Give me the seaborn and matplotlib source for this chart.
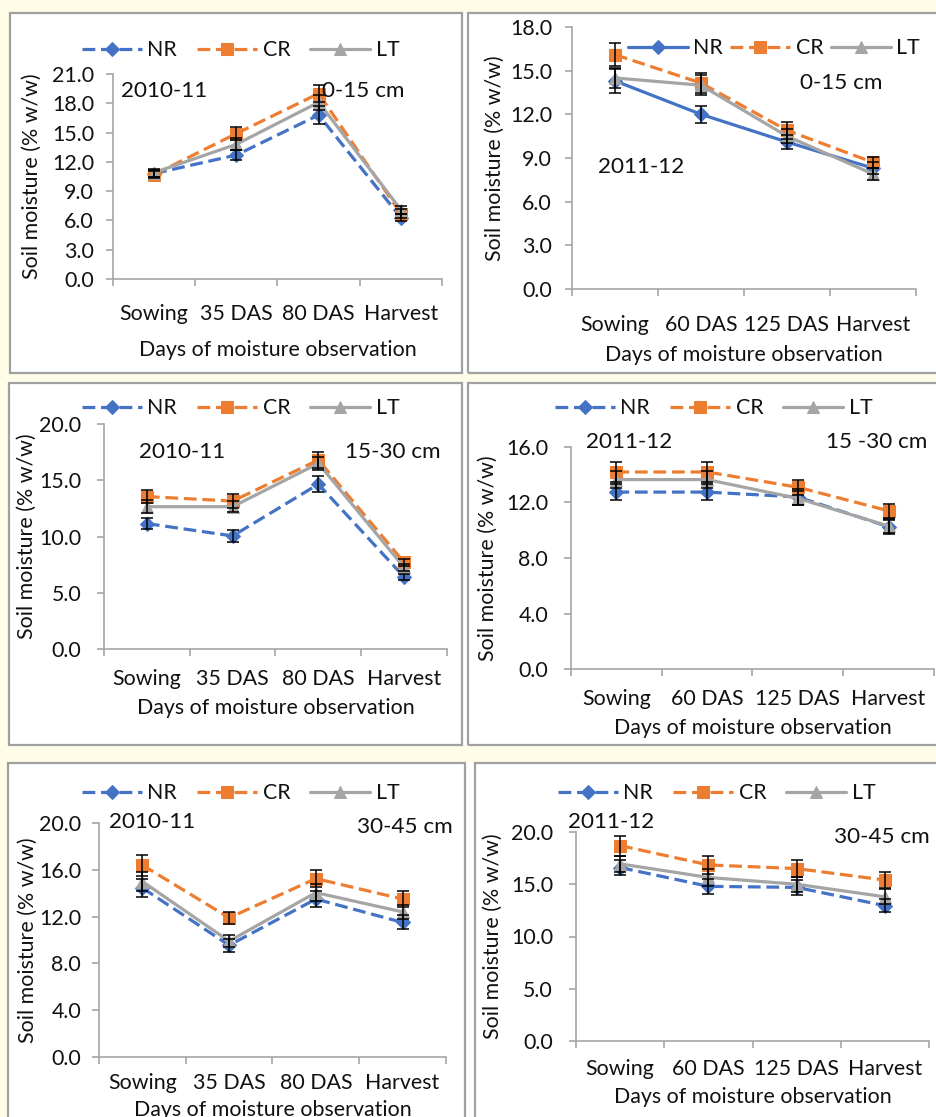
import numpy as np
import pandas as pd
import matplotlib
matplotlib.use("Agg")
import matplotlib.pyplot as plt
import seaborn as sns
from matplotlib.patches import Rectangle
from matplotlib.ticker import FormatStrFormatter

# ---------------- data ----------------
stages_2010 = ["Sowing", "35 DAS", "80 DAS", "Harvest"]
stages_2011 = ["Sowing", "60 DAS", "125 DAS", "Harvest"]
series_names = ["NR", "CR", "LT"]

# 2010-11, 0-15 cm
nr_2010_0_15 = [10.8, 12.7, 16.8, 6.3]
cr_2010_0_15 = [10.7, 14.9, 19.0, 6.7]
lt_2010_0_15 = [10.9, 13.8, 18.1, 7.1]
nr_2010_0_15_err = [0.4, 0.5, 0.9, 0.4]
cr_2010_0_15_err = [0.4, 0.7, 0.9, 0.5]
lt_2010_0_15_err = [0.4, 0.6, 0.8, 0.4]

# 2011-12, 0-15 cm
nr_2011_0_15 = [14.3, 12.0, 10.1, 8.3]
cr_2011_0_15 = [16.1, 14.15, 10.9, 8.7]
lt_2011_0_15 = [14.5, 14.0, 10.5, 7.9]
nr_2011_0_15_err = [0.8, 0.6, 0.5, 0.4]
cr_2011_0_15_err = [0.8, 0.7, 0.6, 0.4]
lt_2011_0_15_err = [0.7, 0.7, 0.5, 0.4]

# 2010-11, 15-30 cm
nr_2010_15_30 = [11.15, 10.05, 14.65, 6.4]
cr_2010_15_30 = [13.55, 13.15, 16.8, 7.7]
lt_2010_15_30 = [12.65, 12.65, 16.5, 7.25]
nr_2010_15_30_err = [0.5, 0.5, 0.7, 0.3]
cr_2010_15_30_err = [0.6, 0.6, 0.7, 0.3]
lt_2010_15_30_err = [0.6, 0.5, 0.6, 0.3]

# 2011-12, 15-30 cm
nr_2011_15_30 = [12.75, 12.75, 12.4, 10.25]
cr_2011_15_30 = [14.2, 14.2, 13.1, 11.4]
lt_2011_15_30 = [13.65, 13.65, 12.3, 10.3]
nr_2011_15_30_err = [0.6, 0.6, 0.6, 0.5]
cr_2011_15_30_err = [0.75, 0.75, 0.55, 0.5]
lt_2011_15_30_err = [0.6, 0.6, 0.5, 0.5]

# 2010-11, 30-45 cm
nr_2010_30_45 = [14.45, 9.55, 13.5, 11.5]
cr_2010_30_45 = [16.4, 11.9, 15.25, 13.5]
lt_2010_30_45 = [15.0, 9.9, 14.05, 12.4]
nr_2010_30_45_err = [0.75, 0.55, 0.7, 0.6]
cr_2010_30_45_err = [0.9, 0.5, 0.75, 0.7]
lt_2010_30_45_err = [0.8, 0.5, 0.7, 0.6]

# 2011-12, 30-45 cm
nr_2011_30_45 = [16.6, 14.8, 14.7, 12.95]
cr_2011_30_45 = [18.7, 16.85, 16.5, 15.4]
lt_2011_30_45 = [16.95, 15.65, 15.0, 13.8]
nr_2011_30_45_err = [0.75, 0.7, 0.75, 0.65]
cr_2011_30_45_err = [0.95, 0.9, 0.8, 0.8]
lt_2011_30_45_err = [0.8, 0.8, 0.7, 0.7]

y_label = "Soil moisture (% w/w)"
x_label = "Days of moisture observation"

# ---------------- style ----------------
sns.set_style("white")
plt.rcParams["font.family"] = ["Lato", "DejaVu Sans"]

W, H = 937, 1117
fig = plt.figure(figsize=(W / 100, H / 100), dpi=100)
fig.patch.set_facecolor("#FFFCE8")

COL = {"NR": "#4472C4", "CR": "#ED7D31", "LT": "#A5A5A5"}
MARK = {"NR": "D", "CR": "s", "LT": "^"}
MSIZE = {"NR": 7, "CR": 8.3, "LT": 8.8}
DASH = (0, (4, 1.8))
SPINE = "#A6A6A6"
TXT = "#111111"
FS_TICK = 15.4
FS_NOTE = 16.2

def fx(px):
    return px / W

def fy(py):
    return 1 - py / H

# white row bands and panel frames (pixel coordinates)
for (x0, y0, x1, y1) in [(10, 13, 940, 373), (9, 383, 940, 745), (8, 763, 940, 1125)]:
    fig.patches.append(Rectangle((fx(x0), fy(y1)), fx(x1 - x0), (y1 - y0) / H,
                                 transform=fig.transFigure, facecolor="white",
                                 edgecolor="none", zorder=0))
for (x0, y0, x1, y1) in [(10, 13, 462, 373), (468, 13, 945, 373),
                         (9, 383, 462, 745), (468, 383, 945, 745),
                         (8, 763, 465, 1125), (475, 763, 945, 1125)]:
    fig.patches.append(Rectangle((fx(x0), fy(y1)), fx(x1 - x0), (y1 - y0) / H,
                                 transform=fig.transFigure, facecolor="none",
                                 edgecolor="#A0A0A0", linewidth=1.6, zorder=1))

panels = [
    dict(box=(113, 442, 74, 279), ymax=21, step=3, stages=stages_2010,
         vals=[nr_2010_0_15, cr_2010_0_15, lt_2010_0_15],
         errs=[nr_2010_0_15_err, cr_2010_0_15_err, lt_2010_0_15_err],
         nr_dashed=True, leg=(82, 50), colsp=0.95, ylab_x=32, xlab_y=350,
         xpad=18, ypad=8.6,
         notes=[("2010-11", 121, 91), ("0-15 cm", 322, 91)]),
    dict(box=(572, 916, 27, 289), ymax=18, step=3, stages=stages_2011,
         vals=[nr_2011_0_15, cr_2011_0_15, lt_2011_0_15],
         errs=[nr_2011_0_15_err, cr_2011_0_15_err, lt_2011_0_15_err],
         nr_dashed=False, leg=(628, 48), colsp=0.35, ylab_x=495, xlab_y=355,
         xpad=19, ypad=9.4,
         notes=[("0-15 cm", 800, 83), ("2011-12", 598, 167)]),
    dict(box=(104, 447, 424, 649), ymax=20, step=5, stages=stages_2010,
         vals=[nr_2010_15_30, cr_2010_15_30, lt_2010_15_30],
         errs=[nr_2010_15_30_err, cr_2010_15_30_err, lt_2010_15_30_err],
         nr_dashed=True, leg=(82, 408), colsp=0.95, ylab_x=27, xlab_y=708,
         xpad=14.5, ypad=11.2,
         notes=[("2010-11", 139, 452), ("15-30 cm", 345, 452)]),
    dict(box=(571, 934, 447, 669), ymax=16, step=4, stages=stages_2011,
         vals=[nr_2011_15_30, cr_2011_15_30, lt_2011_15_30],
         errs=[nr_2011_15_30_err, cr_2011_15_30_err, lt_2011_15_30_err],
         nr_dashed=True, leg=(555, 408), colsp=0.95, ylab_x=488, xlab_y=728,
         xpad=14.5, ypad=11.5,
         notes=[("2011-12", 586, 442), ("15 -30 cm", 826, 442)]),
    dict(box=(99, 446, 823, 1057), ymax=20, step=4, stages=stages_2010,
         vals=[nr_2010_30_45, cr_2010_30_45, lt_2010_30_45],
         errs=[nr_2010_30_45_err, cr_2010_30_45_err, lt_2010_30_45_err],
         nr_dashed=True, leg=(82, 793), colsp=0.95, ylab_x=28, xlab_y=1110,
         xpad=11.5, ypad=7.9,
         notes=[("2010-11", 109, 822), ("30-45 cm", 357, 827)]),
    dict(box=(576, 929, 832, 1041), ymax=20, step=5, stages=stages_2011,
         vals=[nr_2011_30_45, cr_2011_30_45, lt_2011_30_45],
         errs=[nr_2011_30_45_err, cr_2011_30_45_err, lt_2011_30_45_err],
         nr_dashed=True, leg=(558, 793), colsp=0.95, ylab_x=493, xlab_y=1097,
         xpad=13, ypad=11.5,
         notes=[("2011-12", 568, 822), ("30-45 cm", 834, 837)]),
]

for p in panels:
    l, r, t, b = p["box"]
    ax = fig.add_axes([fx(l), fy(b), fx(r - l), (b - t) / H])
    ax.set_facecolor("none")
    ax.set_zorder(2)
    stages = p["stages"]
    for k, (name, vals, errs) in enumerate(zip(series_names, p["vals"], p["errs"])):
        df = pd.DataFrame({"stage": stages, "moisture": vals})
        if name == "LT" or (name == "NR" and not p["nr_dashed"]):
            ls = "-"
        else:
            ls = DASH
        sns.lineplot(data=df, x="stage", y="moisture", ax=ax, sort=False,
                     color=COL[name], linewidth=2.3, linestyle=ls,
                     marker=MARK[name], markersize=MSIZE[name],
                     markeredgecolor=COL[name], markerfacecolor=COL[name],
                     label=name, zorder=3 + k)
        ax.errorbar(stages, vals, yerr=errs, fmt="none", ecolor="black",
                    elinewidth=1.1, capsize=4, capthick=1.1, zorder=6)

    ax.set_xlim(-0.5, 3.5)
    ax.set_xticks([-0.5, 0.5, 1.5, 2.5, 3.5])
    ax.set_xticklabels([])
    ax.set_xticks(range(4), minor=True)
    ax.set_xticklabels(stages, minor=True)
    ax.tick_params(axis="x", which="major", length=5, width=1.2, color=SPINE,
                   direction="out", bottom=True)
    ax.tick_params(axis="x", which="minor", length=0, pad=p["xpad"],
                   labelsize=FS_TICK, labelcolor=TXT, bottom=True)

    ax.set_ylim(0, p["ymax"])
    ax.set_yticks(np.arange(0, p["ymax"] + 0.01, p["step"]))
    ax.yaxis.set_major_formatter(FormatStrFormatter("%.1f"))
    ax.tick_params(axis="y", length=5, width=1.2, color=SPINE, direction="out",
                   left=True, pad=p["ypad"], labelsize=FS_TICK, labelcolor=TXT)

    for s in ["top", "right"]:
        ax.spines[s].set_visible(False)
    for s in ["left", "bottom"]:
        ax.spines[s].set_color(SPINE)
        ax.spines[s].set_linewidth(1.2)

    ax.set_xlabel(x_label, fontsize=FS_TICK, color=TXT)
    ax.xaxis.label.set_va("center")
    ax.xaxis.set_label_coords((l + r) / 2 / W, fy(p["xlab_y"]), transform=fig.transFigure)
    ax.set_ylabel(y_label, fontsize=FS_TICK, color=TXT)
    ax.yaxis.label.set_va("center")
    ax.yaxis.set_label_coords(fx(p["ylab_x"]), fy((t + b) / 2), transform=fig.transFigure)

    handles, labels = ax.get_legend_handles_labels()
    lx, ly = p["leg"]
    ax.legend(handles, labels, loc="center left", bbox_to_anchor=(fx(lx), fy(ly)),
              bbox_transform=fig.transFigure, ncol=3, frameon=False,
              fontsize=FS_TICK, handlelength=2.8, handletextpad=0.25,
              columnspacing=p["colsp"], borderpad=0, borderaxespad=0,
              labelcolor=TXT)

    for txt, x, y in p["notes"]:
        fig.text(fx(x), fy(y), txt, ha="left", va="center", fontsize=FS_NOTE,
                 color=TXT, zorder=5)

fig.savefig("out.png", dpi=100, facecolor=fig.get_facecolor())
